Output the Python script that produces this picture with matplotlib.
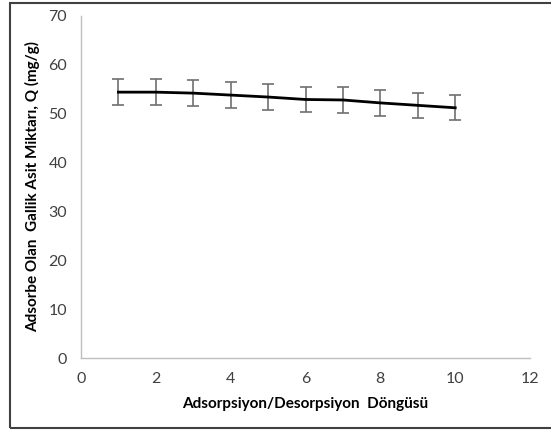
import matplotlib
matplotlib.use("Agg")
import matplotlib.pyplot as plt
from matplotlib.patches import Rectangle

plt.rcParams['font.family'] = ['Lato', 'DejaVu Sans']

cycles = [1, 2, 3, 4, 5, 6, 7, 8, 9, 10]
q_values = [54.4, 54.4, 54.2, 53.8, 53.4, 52.9, 52.8, 52.2, 51.7, 51.2]
q_errors = [2.7, 2.7, 2.7, 2.6, 2.6, 2.6, 2.7, 2.6, 2.6, 2.6]
x_ticks = [0, 2, 4, 6, 8, 10, 12]
y_ticks = [0, 10, 20, 30, 40, 50, 60, 70]

fig = plt.figure(figsize=(5.51, 4.30), dpi=100)
ax = fig.add_axes([0.147, 0.1674, 0.815, 0.7956])

ax.errorbar(cycles, q_values, yerr=q_errors, color='black', lw=2.0,
            ecolor='#707070', elinewidth=1.2, capsize=4, capthick=1.2, zorder=3)

ax.set_xlim(0, 12)
ax.set_ylim(0, 70)
ax.set_xticks(x_ticks)
ax.set_yticks(y_ticks)
ax.tick_params(length=0, labelsize=11.5, colors='#404040')
ax.tick_params(axis='x', pad=10)
ax.tick_params(axis='y', pad=10)
for s in ['top', 'right']:
    ax.spines[s].set_visible(False)
for s in ['left', 'bottom']:
    ax.spines[s].set_color('#BFBFBF')
    ax.spines[s].set_linewidth(1.0)

ax.set_xlabel('Adsorpsiyon/Desorpsiyon  Döngüsü', fontsize=11, fontweight='bold', labelpad=8)
ax.set_ylabel('Adsorbe Olan  Gallik Asit Miktarı, Q (mg/g)', fontsize=11, fontweight='bold', labelpad=6)

fig.patches.append(Rectangle((10/551, 2/430), 1.0, 425/430, transform=fig.transFigure,
                             fill=False, edgecolor='#404040', lw=1.5))

fig.savefig('out.png', dpi=100)
